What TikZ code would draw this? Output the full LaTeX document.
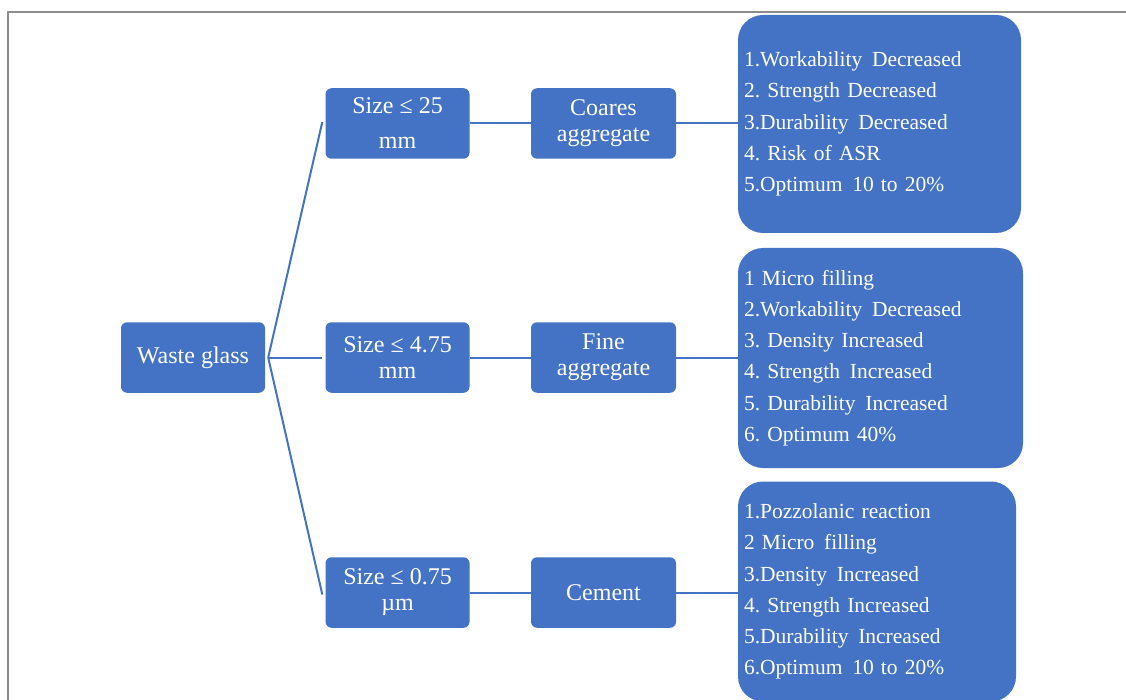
\documentclass[tikz,border=0pt]{standalone}
\usepackage{fontspec}
\setmainfont{Liberation Serif}
\definecolor{obl}{HTML}{4472C4}
\definecolor{frm}{HTML}{8C8C8C}
\newcommand{\dsp}{\hspace{0.12em}}
\begin{document}
\frenchspacing
\begin{tikzpicture}[x=1pt,y=-1pt,
  smallbox/.style={fill=obl,rounded corners=6pt,minimum width=144pt,minimum height=70.5pt,
    inner sep=0pt,text=white,align=center,font=\fontsize{24}{26}\selectfont},
  listbox/.style={fill=obl,rounded corners=25pt,inner xsep=6pt,inner ysep=0pt,text=white,align=left,
    font=\fontsize{21.5}{31.2}\selectfont\frenchspacing},
  conn/.style={draw=obl,line width=2pt}]
\useasboundingbox (0,0) rectangle (1126,700);
\draw[frm,line width=2pt] (7.5,700) -- (7.5,12.5) -- (1126,12.5);
% nodes
\node[smallbox] (wg) at (193,357.5) {Waste glass};
\node[smallbox] (s1) at (397.5,123.5) {Size ≤ 25\\[9pt]mm};
\node[smallbox] (s2) at (397.5,357.5) {Size ≤ 4.75\\mm};
\node[smallbox] (s3) at (397.5,592.5) {Size ≤ 0.75\\µm};
\node[smallbox,minimum width=145pt] (c1) at (603.5,123.5) {Coares\\aggregate};
\node[smallbox,minimum width=145pt] (c2) at (603.5,357.5) {Fine\\aggregate};
\node[smallbox,minimum width=145pt] (c3) at (603.5,592.5) {Cement};
\node[listbox,text width=271pt,minimum height=218pt] (b1) at (879.5,124) {1.Workability\dsp{} Decreased\\2. Strength Decreased\\3.Durability\dsp{} Decreased\\4. Risk of ASR\\5.Optimum\dsp{} 10 to 20\%};
\node[listbox,text width=273pt,minimum height=220pt] (b2) at (880.5,358) {1 Micro filling\\2.Workability\dsp{} Decreased\\3. Density Increased\\4. Strength\dsp{} Increased\\5. Durability\dsp{} Increased\\6. Optimum 40\%};
\node[listbox,text width=266pt,minimum height=220pt] (b3) at (877,591.5) {1.Pozzolanic reaction\\2 Micro\dsp{} filling\\3.Density\dsp{} Increased\\4. Strength Increased\\5.Durability\dsp{} Increased\\6.Optimum\dsp{} 10 to 20\%};
% connectors
\coordinate (hub) at ([xshift=3pt]wg.east);
\draw[conn] (hub) -- ([xshift=-3pt,yshift=1.5pt]s1.west);
\draw[conn] (hub) -- ([xshift=-3pt]s2.west);
\draw[conn] (hub) -- ([xshift=-3pt,yshift=-2pt]s3.west);
\draw[conn] (s1.east) -- (c1.west);
\draw[conn] (s2.east) -- (c2.west);
\draw[conn] (s3.east) -- (c3.west);
\draw[conn] (c1.east) -- (b1.west|-c1.east);
\draw[conn] (c2.east) -- (b2.west|-c2.east);
\draw[conn] (c3.east) -- (b3.west|-c3.east);
\end{tikzpicture}
\end{document}
